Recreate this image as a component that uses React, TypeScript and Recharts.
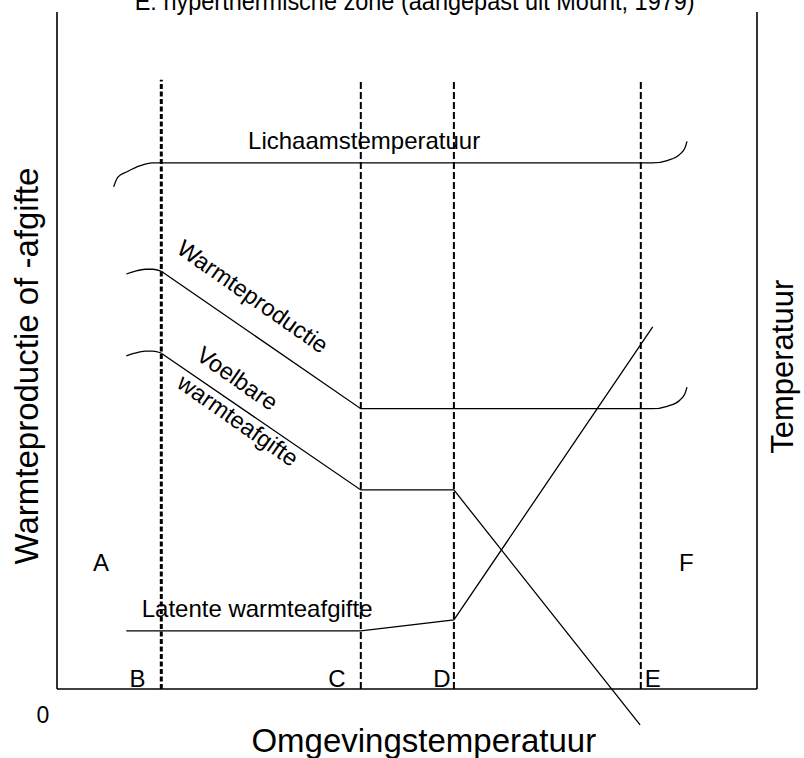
import React from 'react';
import { LineChart, Line, XAxis, YAxis, ReferenceLine, ReferenceDot } from 'recharts';

type Pt = { x: number; y: number };
const toPts = (a: number[][]): Pt[] => a.map(([x, y]) => ({ x, y }));

// Ambient temperature (x, 0..100) vs heat production / body temperature (y)
const zoneBoundaries = [14.9, 43.4, 56.7, 83.4]; // B, C, D, E
const boundaryTop = 90;

const bodyTemp = [[14.9, 77.7], [83.4, 77.7]];
const bodyTempLeftCurl = [[8.1, 74.2], [8.7, 75.6], [10.0, 76.4], [11.9, 77.3], [13.6, 77.7], [14.9, 77.7]];
const bodyTempRightCurl = [[83.4, 77.7], [85.0, 77.7], [87.3, 78.1], [89.0, 79.0], [89.7, 79.9], [90.0, 80.9]];

const heatProduction = [[14.9, 61.7], [43.4, 41.4], [83.4, 41.4]];
const heatProductionLeftCurl = [[9.9, 61.3], [11.1, 61.7], [12.6, 62.0], [13.7, 62.0], [14.9, 61.7]];
const heatProductionRightCurl = [[83.4, 41.4], [85.0, 41.4], [87.3, 41.8], [89.0, 42.7], [89.7, 43.6], [90.0, 44.6]];

const sensibleHeat = [[14.9, 49.6], [43.4, 29.4], [56.7, 29.4], [83.3, -5.3]];
const sensibleHeatLeftCurl = [[9.9, 49.2], [11.1, 49.6], [12.6, 49.9], [13.7, 49.9], [14.9, 49.6]];

const latentHeat = [[9.9, 8.6], [43.4, 8.6], [56.7, 10.2], [85.1, 53.5]];

type Lbl = { text: string; x: number; y: number; size: number; anchor: 'start' | 'middle' | 'end'; angle?: number; fit?: number; family?: string };
const labels: Lbl[] = [
  { text: 'E: hyperthermische zone (aangepast uit Mount, 1979)', x: 51.1, y: 100.3, size: 25, anchor: 'middle', fit: 560, family: '"Liberation Sans Narrow", "Liberation Sans", Arial, sans-serif' },
  { text: 'Lichaamstemperatuur', x: 27.3, y: 79.8, size: 24, anchor: 'start' },
  { text: 'Warmteproductie', x: 27.3, y: 57.0, size: 23.5, anchor: 'middle', angle: 35 },
  { text: 'Voelbare', x: 25.1, y: 44.9, size: 23.5, anchor: 'middle', angle: 35 },
  { text: 'warmteafgifte', x: 25.2, y: 38.7, size: 23.5, anchor: 'middle', angle: 35 },
  { text: 'Latente warmteafgifte', x: 12.1, y: 10.6, size: 24, anchor: 'start' },
  { text: 'A', x: 6.3, y: 17.4, size: 24, anchor: 'middle' },
  { text: 'F', x: 89.9, y: 17.4, size: 24, anchor: 'middle' },
  { text: 'B', x: 11.5, y: 0.3, size: 24, anchor: 'middle' },
  { text: 'C', x: 40.0, y: 0.3, size: 24, anchor: 'middle' },
  { text: 'D', x: 55.0, y: 0.3, size: 24, anchor: 'middle' },
  { text: 'E', x: 85.1, y: 0.3, size: 24, anchor: 'middle' },
  { text: '0', x: -2.0, y: -5.0, size: 23, anchor: 'middle' },
  { text: 'Omgevingstemperatuur', x: 52.4, y: -9.3, size: 33, anchor: 'middle' },
  { text: 'Warmteproductie of -afgifte', x: -2.7, y: 47.7, size: 33, anchor: 'middle', angle: -90 },
  { text: 'Temperatuur', x: 105.1, y: 47.6, size: 31, anchor: 'middle', angle: -90 },
];

const FONT = '"Liberation Sans", Arial, sans-serif';

const makeLabel = (l: Lbl) => (props: any) => {
  const vb = props.viewBox || {};
  const cx = (vb.x || 0) + (vb.width || 0) / 2;
  const cy = (vb.y || 0) + (vb.height || 0) / 2;
  return (
    <text
      x={cx}
      y={cy}
      fontSize={l.size}
      fontFamily={l.family || FONT}
      fill="#000"
      textAnchor={l.anchor}
      transform={l.angle ? `rotate(${l.angle} ${cx} ${cy})` : undefined}
      textLength={l.fit}
      lengthAdjust={l.fit ? 'spacingAndGlyphs' : undefined}
    >
      {l.text}
    </text>
  );
};

const curve = (key: string, d: number[][], type: 'linear' | 'monotone') => (
  <Line
    key={key}
    data={toPts(d)}
    dataKey="y"
    type={type}
    stroke="#000"
    strokeWidth={1.3}
    dot={false}
    activeDot={false}
    isAnimationActive={false}
  />
);

export default function App() {
  return (
    <div style={{ position: 'absolute', left: 0, top: 0, width: 804, height: 758, background: '#fff', overflow: 'hidden' }}>
      <LineChart width={804} height={758} margin={{ top: 12, right: 47, bottom: 1.3, left: 57 }}>
        <XAxis type="number" dataKey="x" domain={[0, 100]} hide allowDataOverflow />
        <YAxis type="number" dataKey="y" domain={[-10, 100]} hide allowDataOverflow />

        {/* frame */}
        <ReferenceLine segment={[{ x: 0, y: 0 }, { x: 100, y: 0 }]} stroke="#000" strokeWidth={1.6} ifOverflow="visible" />
        <ReferenceLine segment={[{ x: 0, y: 0 }, { x: 0, y: 100 }]} stroke="#000" strokeWidth={1.6} ifOverflow="visible" />
        <ReferenceLine segment={[{ x: 100, y: 0 }, { x: 100, y: 100 }]} stroke="#000" strokeWidth={1.6} ifOverflow="visible" />

        {/* zone boundaries */}
        {zoneBoundaries.map((bx, i) => (
          <ReferenceLine
            key={'zb' + i}
            segment={[{ x: bx, y: 0 }, { x: bx, y: boundaryTop }]}
            stroke="#000"
            strokeWidth={i === 0 ? 3 : 2}
            strokeDasharray={i === 0 ? '5 2.5' : '7 3'}
            ifOverflow="visible"
          />
        ))}

        {curve('bt', bodyTemp, 'linear')}
        {curve('btl', bodyTempLeftCurl, 'monotone')}
        {curve('btr', bodyTempRightCurl, 'monotone')}
        {curve('hp', heatProduction, 'linear')}
        {curve('hpl', heatProductionLeftCurl, 'monotone')}
        {curve('hpr', heatProductionRightCurl, 'monotone')}
        {curve('sh', sensibleHeat, 'linear')}
        {curve('shl', sensibleHeatLeftCurl, 'monotone')}
        {curve('lh', latentHeat, 'linear')}

        {labels.map((l, i) => (
          <ReferenceDot
            key={'lb' + i}
            x={l.x}
            y={l.y}
            r={0}
            fill="none"
            stroke="none"
            ifOverflow="visible"
            label={makeLabel(l)}
          />
        ))}
      </LineChart>
    </div>
  );
}
